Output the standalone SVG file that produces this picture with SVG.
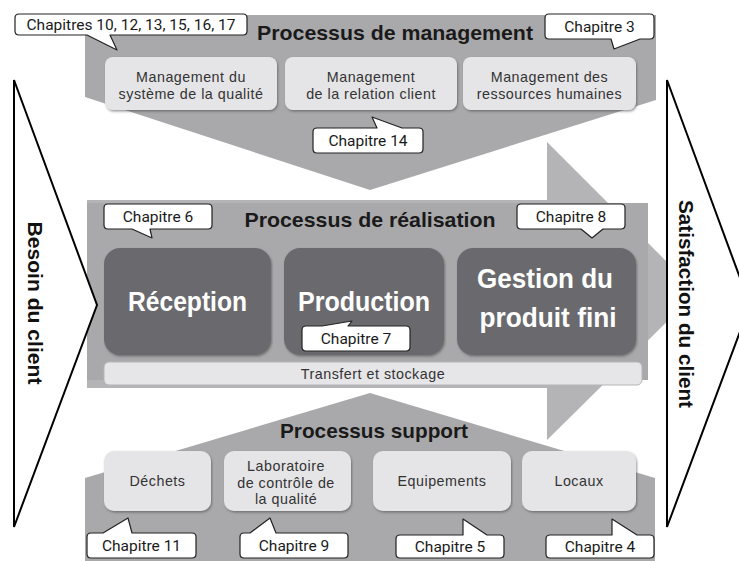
<svg xmlns="http://www.w3.org/2000/svg" width="739" height="561" viewBox="0 0 739 561">
<defs>
<filter id="sh" x="-10%" y="-10%" width="120%" height="130%">
<feDropShadow dx="1" dy="1.5" stdDeviation="0.8" flood-color="#444" flood-opacity="0.55"/>
</filter>
<style>
.bg{fill:#a9a9ab}
.arrow{fill:#b4b4b6}
.tri{fill:#fff;stroke:#000;stroke-width:2;stroke-linejoin:miter}
.side{font-family:"Liberation Sans",Arial,sans-serif;font-weight:bold;font-size:20px;fill:#111}
.title{font-family:"Liberation Sans",Arial,sans-serif;font-weight:bold;font-size:21px;fill:#1a1a1a}
.light{fill:#e5e5e7;filter:url(#sh)}
.ltxt{font-family:"Liberation Sans",Arial,sans-serif;font-size:14.3px;letter-spacing:0.5px;fill:#333;text-anchor:middle}
.dark{fill:#6b6b6e;filter:url(#sh)}
.dtxt{font-family:"Liberation Sans",Arial,sans-serif;font-weight:bold;font-size:27px;fill:#fff;text-anchor:middle}
.bar{fill:#e6e6e8;stroke:#b5b5b7;stroke-width:1}
.call{fill:#fff;stroke:#222;stroke-width:1.2;stroke-linejoin:round}
.ctxt{font-family:Roboto,"Liberation Sans",sans-serif;font-size:15.5px;fill:#1a1a1a;text-anchor:middle}
</style>
</defs>

<g id="background">
<polygon class="arrow" points="87,200 547,200 547,142 697,292 547,440 547,388 87,388"/>
<rect class="bg" x="87" y="203" width="561" height="177"/>
<polygon class="bg" points="85,15 656,15 656,100 370,190 85,97"/>
<polygon class="bg" points="85,478 370,393 655,478 655,561 85,561"/>
</g>

<g id="besoin">
<polygon class="tri" points="14,80 97,305 14,527"/>
<text class="side" transform="translate(28,303) rotate(90)" text-anchor="middle" textLength="163" lengthAdjust="spacingAndGlyphs">Besoin du client</text>
</g>
<g id="satisfaction">
<polygon class="tri" points="667,80 750,305 667,527"/>
<text class="side" transform="translate(679,304) rotate(90)" text-anchor="middle" textLength="208" lengthAdjust="spacingAndGlyphs">Satisfaction du client</text>
</g>

<g id="titre-management"><text class="title" x="395" y="40" text-anchor="middle" textLength="276" lengthAdjust="spacingAndGlyphs">Processus de management</text></g>
<g id="titre-realisation"><text class="title" x="370" y="227" text-anchor="middle" textLength="251" lengthAdjust="spacingAndGlyphs">Processus de réalisation</text></g>
<g id="titre-support"><text class="title" x="374" y="438" text-anchor="middle" textLength="188" lengthAdjust="spacingAndGlyphs">Processus support</text></g>

<g id="mgmt-qualite">
<rect class="light" x="105" y="57" width="172" height="53" rx="8"/>
<text class="ltxt" x="191" y="82">Management du</text>
<text class="ltxt" x="191" y="98.5">système de la qualité</text>
</g>
<g id="mgmt-client">
<rect class="light" x="285" y="57" width="172" height="53" rx="8"/>
<text class="ltxt" x="371" y="82">Management</text>
<text class="ltxt" x="371" y="98.5">de la relation client</text>
</g>
<g id="mgmt-rh">
<rect class="light" x="463" y="57" width="173" height="53" rx="8"/>
<text class="ltxt" x="549.5" y="82">Management des</text>
<text class="ltxt" x="549.5" y="98.5">ressources humaines</text>
</g>

<g id="reception">
<rect class="dark" x="104" y="248" width="167" height="107" rx="16"/>
<text class="dtxt" x="187.5" y="311" textLength="119" lengthAdjust="spacingAndGlyphs">Réception</text>
</g>
<g id="production">
<rect class="dark" x="284" y="248" width="160" height="107" rx="16"/>
<text class="dtxt" x="364" y="311" textLength="132" lengthAdjust="spacingAndGlyphs">Production</text>
</g>
<g id="gestion">
<rect class="dark" x="457" y="248" width="179" height="107" rx="16"/>
<text class="dtxt" x="545" y="288" textLength="136" lengthAdjust="spacingAndGlyphs">Gestion du</text>
<text class="dtxt" x="548" y="327" textLength="137" lengthAdjust="spacingAndGlyphs">produit fini</text>
</g>

<g id="transfert">
<rect class="bar" x="104" y="362" width="538" height="23" rx="5"/>
<text class="ltxt" x="373" y="379">Transfert et stockage</text>
</g>

<g id="dechets">
<rect class="light" x="104" y="451" width="107" height="60" rx="10"/>
<text class="ltxt" x="157.5" y="486">Déchets</text>
</g>
<g id="laboratoire">
<rect class="light" x="224" y="451" width="127" height="60" rx="10"/>
<text class="ltxt" x="286" y="471">Laboratoire</text>
<text class="ltxt" x="286" y="487.5">de contrôle de</text>
<text class="ltxt" x="286" y="504">la qualité</text>
</g>
<g id="equipements">
<rect class="light" x="373" y="451" width="138" height="60" rx="10"/>
<text class="ltxt" x="442" y="486">Equipements</text>
</g>
<g id="locaux">
<rect class="light" x="522" y="451" width="114" height="60" rx="10"/>
<text class="ltxt" x="579" y="486">Locaux</text>
</g>

<g id="connectors"></g>

<g id="callouts">
<g id="c-10-17">
<path class="call" d="M19,14 H243 Q247,14 247,18 V31 Q247,35 243,35 H110 L117,50 L87,35 H19 Q15,35 15,31 V18 Q15,14 19,14 Z"/>
<text class="ctxt" x="131" y="30" textLength="209" lengthAdjust="spacingAndGlyphs">Chapitres 10, 12, 13, 15, 16, 17</text>
</g>
<g id="c-3">
<path class="call" d="M549,14 H650 Q654,14 654,18 V35 Q654,39 650,39 H640 L614,49 L611,39 H549 Q545,39 545,35 V18 Q545,14 549,14 Z"/>
<text class="ctxt" x="599.5" y="32">Chapitre 3</text>
</g>
<g id="c-14">
<path class="call" d="M317,128 H377 L372,117 L402,128 H419 Q423,128 423,132 V149 Q423,153 419,153 H317 Q313,153 313,149 V132 Q313,128 317,128 Z"/>
<text class="ctxt" x="368" y="146">Chapitre 14</text>
</g>
<g id="c-6">
<path class="call" d="M108,204 H208 Q212,204 212,208 V225 Q212,229 208,229 H150 L152,238 L132,229 H108 Q104,229 104,225 V208 Q104,204 108,204 Z"/>
<text class="ctxt" x="158" y="222">Chapitre 6</text>
</g>
<g id="c-8">
<path class="call" d="M521,204 H621 Q625,204 625,208 V225 Q625,229 621,229 H603 L592,238 L581,229 H521 Q517,229 517,225 V208 Q517,204 521,204 Z"/>
<text class="ctxt" x="571" y="222">Chapitre 8</text>
</g>
<g id="c-7">
<path class="call" d="M306,326 H322 L352,321 L348,326 H406 Q410,326 410,330 V347 Q410,351 406,351 H306 Q302,351 302,347 V330 Q302,326 306,326 Z"/>
<text class="ctxt" x="356" y="344">Chapitre 7</text>
</g>
<g id="c-11">
<path class="call" d="M91,533 H103 L128,518 L132,533 H192 Q196,533 196,537 V554 Q196,558 192,558 H91 Q87,558 87,554 V537 Q87,533 91,533 Z"/>
<text class="ctxt" x="141.5" y="551">Chapitre 11</text>
</g>
<g id="c-9">
<path class="call" d="M244,533 H250 L270,518 L276,533 H344 Q348,533 348,537 V554 Q348,558 344,558 H244 Q240,558 240,554 V537 Q240,533 244,533 Z"/>
<text class="ctxt" x="294" y="551">Chapitre 9</text>
</g>
<g id="c-5">
<path class="call" d="M400,535 H463 L463,519 L487,535 H500 Q504,535 504,539 V554 Q504,558 500,558 H400 Q396,558 396,554 V539 Q396,535 400,535 Z"/>
<text class="ctxt" x="450" y="552">Chapitre 5</text>
</g>
<g id="c-4">
<path class="call" d="M550,535 H612 L612,519 L637,535 H650 Q654,535 654,539 V554 Q654,558 650,558 H550 Q546,558 546,554 V539 Q546,535 550,535 Z"/>
<text class="ctxt" x="600" y="552">Chapitre 4</text>
</g>
</g>
</svg>
